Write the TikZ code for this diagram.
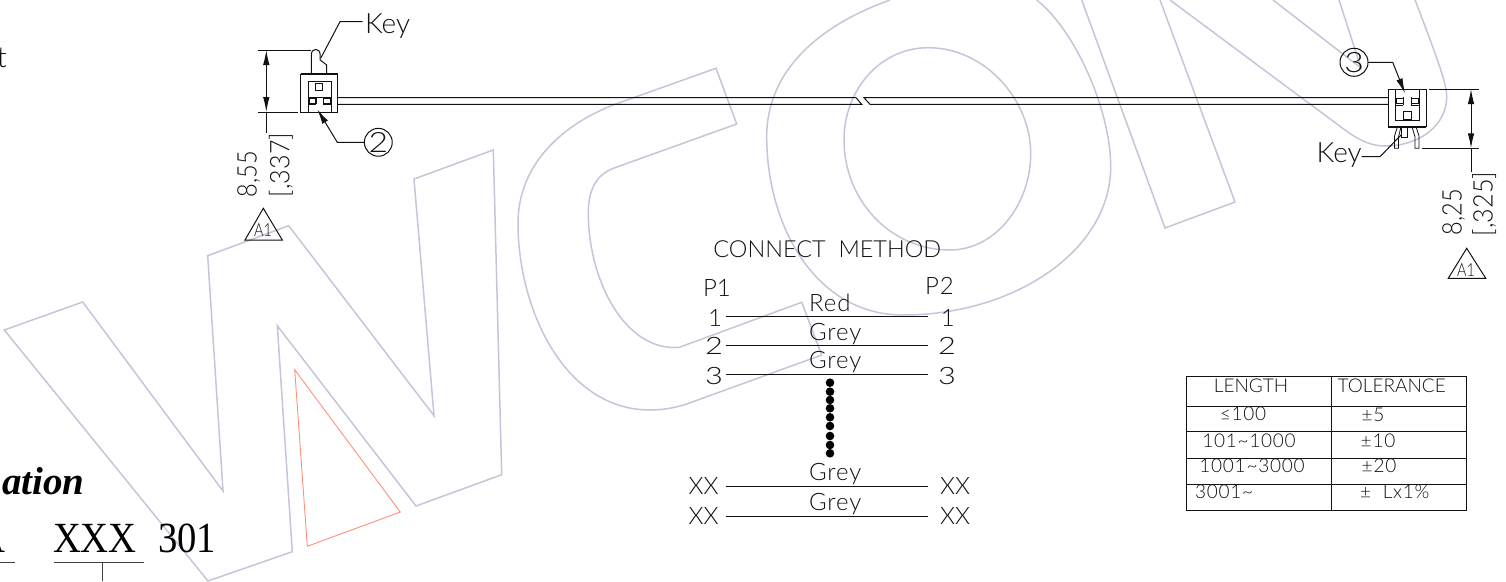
\documentclass[tikz,border=0pt]{standalone}
\usepackage{fontspec}
\usepackage{graphicx}
\usetikzlibrary{arrows.meta}
\newfontfamily\cadfont{Lato Light}
\newfontfamily\cadwide[LetterSpace=4]{Lato Light}
\newfontfamily\timesfont[FakeStretch=0.9]{Liberation Serif}
\newfontfamily\timesbold{Liberation Serif}
\definecolor{wm}{HTML}{C4C4DA}
\definecolor{wmred}{HTML}{FF8F7C}
\definecolor{ink}{HTML}{111111}
\newcommand{\xwid}[2][1.28]{\scalebox{#1}[1]{#2}}
\tikzset{
  wmline/.style={draw=wm,line width=1.5pt,line join=miter},
  redline/.style={draw=wmred,line width=0.9pt},
  ln/.style={draw=ink,line width=1pt},
  thick ln/.style={draw=ink,line width=1.8pt},
  fine/.style={draw=ink,line width=0.8pt},
  lab/.style={inner sep=0pt,outer sep=0pt,anchor=base west,text=ink,font=\cadfont\fontsize{24}{24}\selectfont},
  labc/.style={lab,anchor=base},
  labw/.style={lab,font=\cadwide\fontsize{24}{24}\selectfont},
  tab/.style={inner sep=0pt,outer sep=0pt,anchor=base west,text=ink,font=\cadfont\fontsize{19}{19}\selectfont},
  tabc/.style={tab,anchor=base},
  tabw/.style={tab,anchor=base,font=\cadwide\fontsize{19}{19}\selectfont},
  dimtxt/.style={inner sep=0pt,outer sep=0pt,anchor=base west,rotate=90,text=ink,font=\cadfont\fontsize{27}{27}\selectfont},
  keytxt/.style={inner sep=0pt,outer sep=0pt,anchor=base west,text=ink,font=\cadfont\fontsize{28}{28}\selectfont},
  balloon/.style={draw=ink,line width=1pt,circle,minimum size=26pt,inner sep=0pt,outer sep=0pt,text=ink,font=\cadfont\fontsize{28}{28}\selectfont},
  flag/.style={inner sep=0pt,outer sep=0pt,anchor=base,text=ink,font=\cadfont\fontsize{18}{18}\selectfont},
  arr/.style={-{Latex[length=15pt,width=6.5pt]}},
  dbl/.style={{Latex[length=15pt,width=6.5pt]}-{Latex[length=15pt,width=6.5pt]}},
  dotm/.style={circle,fill=black,minimum size=8.6pt,inner sep=0pt},
  serif/.style={inner sep=0pt,outer sep=0pt,anchor=base west,text=black},
}
\begin{document}
\begin{tikzpicture}[x=1pt,y=-1pt]
\useasboundingbox (0,0) rectangle (1506,581);
% watermark
\draw[wmline] (4.3,330) -- (82.7,302) -- (223,491) -- (207.7,255.7) -- (288.7,225.7) -- (434,415.7) -- (414,179) -- (493.3,150) -- (501.7,474.7) -- (416,506) -- (277.3,325.7) -- (292.3,551.7) -- (208,581) -- cycle;
\draw[redline] (294.7,369.7) -- (400.3,512) -- (307.3,546.3) -- cycle;
\draw[wmline] (716,68.3) -- (613,105) .. controls (555,128) and (518,170) .. (518,223) .. controls (518,310) and (565,410) .. (650,410) .. controls (665,410) and (680,407) .. (695,401) -- (821.7,355) -- (801.7,302.3) -- (679.3,347.3) .. controls (625,352) and (588.3,280) .. (588.3,213.3) .. controls (588.3,190) and (596,175) .. (613.3,168.3) -- (736.7,124) -- cycle;
\draw[wmline] (890,0) .. controls (820,25) and (766.7,70) .. (766.7,136.7) .. controls (766.7,225) and (815,315) .. (903,315) .. controls (1015,315) and (1110.7,250) .. (1110.7,166.7) .. controls (1110.7,110) and (1075,30) .. (1036.7,0);
\draw[wmline] (928.3,47.7) .. controls (880,47.7) and (844,90) .. (844,140) .. controls (844,200) and (890,250) .. (950,250) .. controls (995,250) and (1030.7,205) .. (1030.7,153.3) .. controls (1030.7,100) and (985,47.7) .. (928.3,47.7) -- cycle;
\draw[wmline] (1081.7,0) -- (1165,228) -- (1235,202) -- (1160,0);
\draw[wmline] (1170,0) -- (1300,96.7) -- (1345,130) .. controls (1360,141) and (1372,146) .. (1385,146) .. controls (1420,146) and (1446.7,125) .. (1446.7,96.7) .. controls (1446.7,85) and (1440,65) .. (1415,0);
\draw[wmline] (1273,0) -- (1361,68) -- (1339,0);

% left connector
\coordinate (lkeytip) at (320.7,58.3);
\draw[ln] (311.3,74) -- (311.3,55) .. controls (311.3,47.5) and (320.2,47.5) .. (320.2,55) -- (320.2,60) -- (326.7,65) -- (326.7,74);
\draw[ln] (300.7,74) rectangle (337.7,112.3);
\draw[thick ln] (300.7,74) -- (337.7,74);
\draw[ln] (308.3,112.3) -- (308.3,81.7) -- (331,81.7) -- (331,112.3);
\draw[fine] (315.3,83.3) rectangle (322.3,90);
\draw[ln] (308.3,97) -- (331,97);
\draw[fine] (309,98.3) rectangle (315.7,103.3) (323,98.3) rectangle (330,103.3);
\draw[ln] (308.3,104) -- (316,104) (323,104) -- (331,104);
\draw[ln] (316,97) -- (316,104) (323,97) -- (323,104);
% wire
\coordinate (wl1) at (337.7,97.7); \coordinate (wl2) at (337.7,104.3);
\coordinate (bl1) at (856,97.7); \coordinate (bl2) at (861.7,104.3);
\coordinate (br1) at (864,97.7); \coordinate (br2) at (870,104.3);
\coordinate (wr1) at (1388.3,97.7); \coordinate (wr2) at (1388.3,104.3);
\draw[ln] (wl1) -- (bl1) -- (bl2) -- (wl2);
\draw[ln] (wr1) -- (br1) -- (br2) -- (wr2);
% key left
\node[keytxt] (keyl) at (365,33) {Key};
\coordinate (keylb) at (340,21.7);
\draw[ln] (lkeytip) -- (keylb) -- (362.7,21.7);
% balloon 2
\node[balloon] (b2) at (378.3,142.3) {\xwid[1.2]{2}};
\coordinate (b2k) at (337.3,142.3);
\coordinate (b2t) at (317.3,109.3);
\draw[ln,arr] (b2.west) -- (b2k) -- (b2t);
% dim left
\coordinate (dl1) at (266.3,50); \coordinate (dl2) at (266.3,112); \coordinate (dl3) at (266.3,132.7);
\draw[ln] (258.3,50) -- (311.3,50) (258.3,112) -- (297.7,112);
\draw[ln,dbl] (dl1) -- (dl2);
\draw[ln] (dl2) -- (dl3);
\node[dimtxt] (dla) at (256.7,197) {\xwid[0.87]{8,55}};
\node[dimtxt] (dlb) at (289.3,197) {\xwid[0.93]{[,337]}};
\node[flag] (fl) at (263,236.7) {\xwid[0.8]{A1}};
\draw[ln] (263.3,208.3) -- (245,240) -- (282.3,240) -- cycle;

% right connector
\draw[ln] (1388.3,89) rectangle (1426,126.7);
\draw[thick ln] (1388.3,126.7) -- (1426,126.7);
\draw[ln] (1395.7,89) -- (1395.7,120) -- (1419.3,120) -- (1419.3,89);
\draw[fine] (1396.7,98.3) rectangle (1403.3,103.3) (1411,98.3) rectangle (1418.3,103.3);
\draw[ln] (1395.7,105) -- (1403.3,105) (1411,105) -- (1419.3,105);
\draw[ln] (1403.3,97) -- (1403.3,105) (1411,97) -- (1411,105);
\draw[fine] (1403.3,111.7) rectangle (1411,119);
% pins
\draw[fine] (1397.5,126.7) -- (1394.5,136) -- (1394.5,148.3) -- (1398.5,148.3) -- (1398.5,137) -- (1401,126.7);
\draw[fine] (1412,126.7) -- (1415,137) -- (1415,148.3) -- (1419,148.3) -- (1419,136) -- (1416,126.7);
\draw[fine] (1401.7,126.7) -- (1401.7,137) -- (1407.3,137) -- (1407.3,126.7);
% key right
\node[keytxt] (keyr) at (1316.7,162.7) {Key};
\coordinate (keyrb) at (1380,156.7); \coordinate (keyrt) at (1401,135);
\draw[ln] (1361.7,156.7) -- (keyrb) -- (keyrt);
% balloon 3
\node[balloon] (b3) at (1354,62.3) {\xwid[1.2]{3}};
\coordinate (b3k) at (1392.7,62.3); \coordinate (b3t) at (1405,93.3);
\draw[ln,arr] (b3.east) -- (b3k) -- (b3t);
% dim right
\coordinate (dr1) at (1471,89); \coordinate (dr2) at (1471,148.3); \coordinate (dr3) at (1471,171.7);
\draw[ln] (1429,89) -- (1479,89) (1421.7,148.3) -- (1479,148.3);
\draw[ln,dbl] (dr1) -- (dr2);
\draw[ln] (dr2) -- (dr3);
\node[dimtxt] (dra) at (1461.7,235) {\xwid[0.87]{8,25}};
\node[dimtxt] (drb) at (1492.7,236) {\xwid[0.93]{[,325]}};
\node[flag] (fr) at (1466,276) {\xwid[0.8]{A1}};
\draw[ln] (1466.7,248.3) -- (1448.3,278.3) -- (1485.7,278.3) -- cycle;

% connect method
\node[lab,font=\cadfont\fontsize{23.5}{24}\selectfont] (title) at (713.3,257) {CONNECT\ \ METHOD};
\node[lab] (p1) at (703,296.5) {P1};
\node[labw] (p2) at (925,294.5) {P2};
\foreach \nm/\ya in {a/316,b/345,c/374,d/486,e/516}{
  \coordinate (w\nm l) at (725.7,\ya);
  \coordinate (w\nm r) at (928.3,\ya);
  \draw[ln] (w\nm l) -- (w\nm r);
}
\node[labc] at (715,326) {1}; \node[labc] at (714,354.5) {\xwid{2}}; \node[labc] at (714,384) {\xwid{3}};
\node[labc] at (947.7,326) {1}; \node[labc] at (947,354.5) {\xwid{2}}; \node[labc] at (947,384) {\xwid{3}};
\node[labc] at (703.5,494) {XX}; \node[labc] at (703.5,524) {XX};
\node[labc] at (955,494) {XX}; \node[labc] at (955,524) {XX};
\node[labw] at (809,311.7) {Red};
\node[labw] at (809,340) {Grey};
\node[labw] at (809,368.3) {Grey};
\node[labw] at (809,480) {Grey};
\node[labw] at (809,510.7) {Grey};
\foreach \ya in {382.7,391.7,400,408.3,417.3,426,436,445,453.3}{
  \node[dotm] at (830,\ya) {};
}

% table
\draw[ln] (1186,376.7) rectangle (1466.7,510);
\draw[ln] (1331,376.7) -- (1331,510);
\foreach \ya in {406.7,431.7,458.3,484.3}{\draw[ln] (1186,\ya) -- (1466.7,\ya);}
\node[tabc] at (1251,392) {LENGTH};
\node[tabc] at (1391.7,392) {TOLERANCE};
\node[tabw] at (1243,420) {≤100};
\node[tabw] at (1373,421) {±5};
\node[tabw] at (1249,447.5) {101\textasciitilde 1000};
\node[tabw] at (1378,447.5) {±10};
\node[tabw] at (1252,472) {1001\textasciitilde 3000};
\node[tabw] at (1379,472) {±20};
\node[tabw,anchor=base west] at (1195,498) {3001\textasciitilde};
\node[tabw,anchor=base west] at (1360,498) {±\ \ Lx1\%};

% clipped fragments
\node[lab,font=\cadfont\fontsize{29}{29}\selectfont] at (-3,67) {t};
\node[serif,font=\timesbold\bfseries\itshape\fontsize{39}{39}\selectfont] at (2,494) {ation};
\node[serif,font=\timesfont\fontsize{43}{43}\selectfont] at (53,552) {XXX};
\node[serif,font=\timesfont\fontsize{43}{43}\selectfont] at (158,552) {301};
\node[serif,font=\timesfont\fontsize{43}{43}\selectfont,anchor=base east] at (5,552) {A};
\coordinate (ulc) at (102,562); \coordinate (uld) at (102,581);
\draw[draw=ink!80,line width=1pt] (0,562) -- (15,562) (54,562) -- (144,562) (ulc) -- (uld);
\end{tikzpicture}
\end{document}
